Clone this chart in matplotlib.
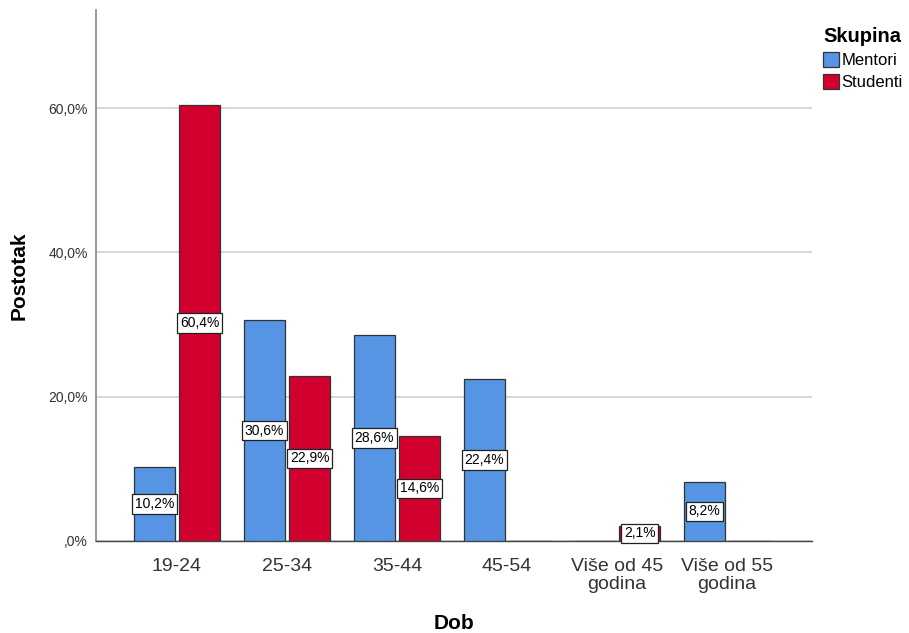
import matplotlib.pyplot as plt
import numpy as np

plt.rcParams['font.family'] = ['Liberation Sans', 'DejaVu Sans']

# podaci
categories = ['19-24', '25-34', '35-44', '45-54', 'Više od 45\ngodina', 'Više od 55\ngodina']
mentori = [10.2, 30.6, 28.6, 22.4, 0.0, 8.2]
studenti = [60.4, 22.9, 14.6, 0.0, 2.1, 0.0]
series_names = ['Mentori', 'Studenti']
yticks = [0, 20, 40, 60]
ytick_labels = [',0%', '20,0%', '40,0%', '60,0%']

col_m = '#5595E3'
col_s = '#D2002E'

fig = plt.figure(figsize=(9.09, 6.33), dpi=100)
ax = fig.add_axes([96 / 909, 92 / 633, 716 / 909, 531 / 633])

x = np.arange(len(categories))
w = 0.376
off = 0.206

for vals, dx, col in [(mentori, -off, col_m), (studenti, off, col_s)]:
    bars = ax.bar(x + dx, vals, w, color=col, edgecolor='#333333', linewidth=0.9, zorder=3)
    for b, v in zip(bars, vals):
        if v > 0:
            ax.text(b.get_x() + b.get_width() / 2, v / 2, f'{v:.1f}%'.replace('.', ','),
                    ha='center', va='center', fontsize=10, zorder=5,
                    bbox=dict(boxstyle='square,pad=0.2', fc='white', ec='#222222', lw=0.9))

ax.set_xlim(-0.736, 5.773)
ax.set_ylim(0, 73.6)
ax.set_yticks(yticks)
ax.set_yticklabels(ytick_labels, fontsize=10, color='#333333')
ax.set_xticks(x)
ax.set_xticklabels(categories, fontsize=14, color='#333333', linespacing=1.1)
ax.tick_params(axis='y', length=0, pad=6)
ax.tick_params(axis='x', length=0, pad=12)
ax.yaxis.grid(True, color='#d0d0d0', linewidth=1.2, zorder=0)
ax.set_axisbelow(True)

for s in ['top', 'right']:
    ax.spines[s].set_visible(False)
ax.spines['left'].set_color('#888888')
ax.spines['left'].set_linewidth(1.2)
ax.spines['bottom'].set_color('#444444')
ax.spines['bottom'].set_linewidth(1.0)

ax.set_ylabel('Postotak', fontsize=15, fontweight='bold', labelpad=14)
ax.set_xlabel('Dob', fontsize=15, fontweight='bold', labelpad=15)

handles = [plt.Rectangle((0, 0), 1, 1, fc=col_m, ec='#333333', lw=0.9),
           plt.Rectangle((0, 0), 1, 1, fc=col_s, ec='#333333', lw=0.9)]
leg = fig.legend(handles, series_names, loc='upper left', bbox_to_anchor=(815 / 909, 1 - 19 / 633),
                 title='Skupina', frameon=False, fontsize=12, handlelength=0.95, handleheight=1.0,
                 handletextpad=0.15, labelspacing=0.35, borderpad=0, alignment='left')
leg.get_title().set_fontweight('bold')
leg.get_title().set_fontsize(14.5)

fig.savefig('out.png', dpi=100)
